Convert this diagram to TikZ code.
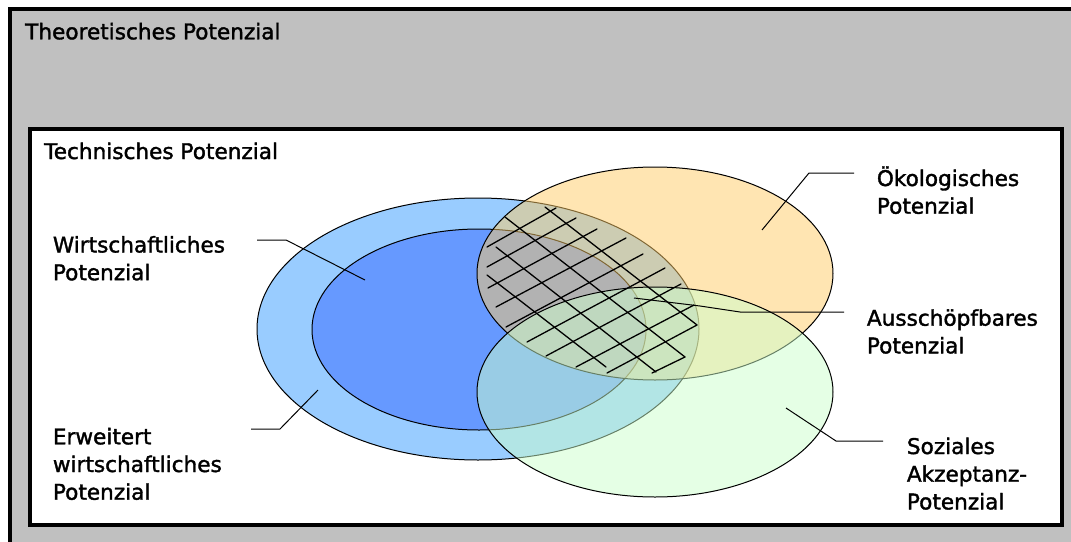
\documentclass[tikz,border=0pt]{standalone}
\usepackage{fontspec}
\setmainfont{DejaVu Sans}
\newfontfamily\lblfont{DejaVu Sans}[FakeBold=1.6]
\definecolor{outergray}{HTML}{C0C0C0}
\definecolor{lblue}{HTML}{99CCFF}
\definecolor{dblue}{HTML}{6699FF}
\definecolor{oekoorange}{HTML}{FFCC66}
\definecolor{sozgreen}{HTML}{CCFFCC}
\begin{document}
\begin{tikzpicture}[x=1pt,y=-1pt,
  lbl/.style={font=\lblfont\fontsize{21.6}{27.7}\selectfont, inner sep=0pt, anchor=base west, align=left},
  ell/.style={draw=black, line width=1pt},
  hatch/.style={line width=1.3pt, line cap=round},
  leader/.style={line width=1pt}]
\useasboundingbox (0,0) rectangle (1071,541);
\fill[white] (0,0) rectangle (1071,541);
% boxes
\draw[line width=4pt, fill=outergray] (10,9) rectangle (1100,580);
\draw[line width=4pt, fill=white] (30,128.7) rectangle (1061.7,525);
% ellipses
\path[ell, fill=lblue] (478,329) ellipse [x radius=221pt, y radius=131pt];
\path[ell, fill=dblue] (479,329.5) ellipse [x radius=167pt, y radius=100.5pt];
\path[ell, fill=oekoorange, fill opacity=0.5] (655,273.5) ellipse [x radius=178pt, y radius=106.5pt];
\path[ell, fill=sozgreen, fill opacity=0.5] (655,392) ellipse [x radius=178pt, y radius=105pt];
% hatch grid
\draw[hatch] (487,247) -- (556,208);
\draw[hatch] (487,267) -- (576,218);
\draw[hatch] (488,288) -- (597,229);
\draw[hatch] (496,307) -- (626,238);
\draw[hatch] (506,327) -- (643,254);
\draw[hatch] (527,342) -- (665,268);
\draw[hatch] (546,356) -- (681,284);
\draw[hatch] (576,367) -- (694,305);
\draw[hatch] (607,373) -- (697,325);
\draw[hatch] (652,373) -- (685,357);
\draw[hatch] (545,207) -- (697,325);
\draw[hatch] (505,217) -- (685,357);
\draw[hatch] (496,247) -- (656,372);
\draw[hatch] (487,275) -- (606,367);
% labels (base anchor = baseline of last line)
\node[lbl] (theo) at (25,39.3) {Theoretisches Potenzial};
\node[lbl] (tech) at (44,159) {Technisches Potenzial};
\node[lbl] (wirt) at (52.7,280.2) {Wirtschaftliches\\Potenzial};
\node[lbl] (erw) at (52.7,499.7) {Erweitert\\wirtschaftliches\\Potenzial};
\node[lbl] (oeko) at (876.7,213.7) {Ökologisches\\Potenzial};
\node[lbl] (aus) at (866.7,353.4) {Ausschöpfbares\\Potenzial};
\node[lbl] (soz) at (906.7,509.4) {Soziales\\Akzeptanz-\\Potenzial};
% leader coordinates
\coordinate (w1) at (257,240); \coordinate (w2) at (286,240); \coordinate (w3) at (365,280);
\coordinate (e1) at (251,429); \coordinate (e2) at (280,429); \coordinate (e3) at (318,390);
\coordinate (o1) at (854,173); \coordinate (o2) at (809,173); \coordinate (o3) at (762,230);
\coordinate (a1) at (844,312); \coordinate (a2) at (740,312); \coordinate (a3) at (700,306); \coordinate (a4) at (634,298);
\coordinate (s1) at (883,441); \coordinate (s2) at (836,441); \coordinate (s3) at (786,408);
\draw[leader] (w1) -- (w2) -- (w3);
\draw[leader] (e1) -- (e2) -- (e3);
\draw[leader] (o1) -- (o2) -- (o3);
\draw[leader] (a1) -- (a2) -- (a3) -- (a4);
\draw[leader] (s1) -- (s2) -- (s3);
\end{tikzpicture}
\end{document}
